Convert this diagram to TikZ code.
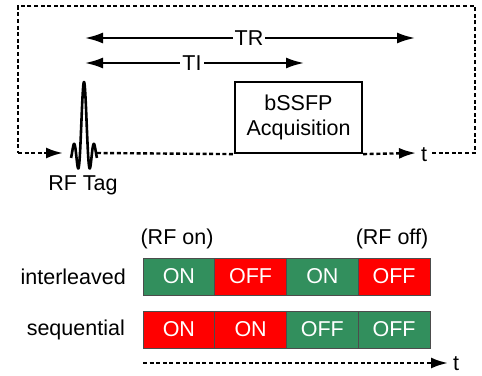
\documentclass[tikz,border=0pt]{standalone}
\usepackage{fontspec}
\setmainfont{Liberation Sans}
\usetikzlibrary{arrows.meta}
\definecolor{cellgreen}{RGB}{50,143,93}
\definecolor{cellred}{RGB}{255,0,0}
\begin{document}
\begin{tikzpicture}[x=1pt,y=-1pt,
  every node/.style={font=\fontsize{21.5}{25}\selectfont, inner sep=0pt},
  dotline/.style={line width=2.4pt, dash pattern=on 4pt off 2.6pt},
  solidarrow/.style={line width=2.2pt, {Latex[length=18pt,width=11pt]}-{Latex[length=18pt,width=11pt]}},
  tiparrow/.style={-{Latex[length=17pt,width=11pt]}},
  cell/.style={draw=black!70, line width=0.8pt, minimum width=71.75pt, minimum height=37pt, text=white},
  oncell/.style={cell, fill=cellgreen},
  offcell/.style={cell, fill=cellred},
  lbl/.style={fill=white, inner sep=2pt}
]
\useasboundingbox (0,0) rectangle (482,375);

% top frame
\coordinate (L) at (18,153);
\coordinate (LT) at (18,6);
\coordinate (RT) at (475,6);
\coordinate (R) at (475,153);
\coordinate (Rend) at (432,153);
\coordinate (pulseL) at (63,153);
\coordinate (pulseR) at (97,153);
\coordinate (tipR) at (416,153);

\node[draw=black, line width=2.2pt, minimum width=127pt, minimum height=71pt, align=center] (acq) at (298.5,117.5) {bSSFP\\Acquisition};

\draw[dotline] (Rend) -- (R) -- (RT) -- (LT) -- (L);
\draw[dotline, tiparrow] (L) -- (pulseL);
\draw[dotline] (pulseR) -- (acq.south west);
\draw[dotline, tiparrow] (acq.south east) -- (tipR);
\node (t1) at (424,155) {t};

% sinc pulse
\draw[line width=2.6pt, line join=round] plot[domain=-13:13, samples=260, smooth]
  ({84+\x},{153-71*sin(deg(pi*\x/4))/(pi*\x/4)});
\node (rftag) at (83,185) {RF Tag};

% TR and TI
\coordinate (trL) at (85,38);
\coordinate (trR) at (415,38);
\coordinate (tiL) at (85,63);
\coordinate (tiR) at (304,63);
\draw[solidarrow] (trL) -- (trR);
\draw[solidarrow] (tiL) -- (tiR);
\node[lbl] (tr) at (249,38) {TR};
\node[lbl] (ti) at (192,63) {TI};

% bottom table
\node (rfon) at (177,239) {(RF on)};
\node (rfoff) at (392,239) {(RF off)};
\node[anchor=east] (inter) at (126,276.5) {interleaved};
\node[anchor=east] (seq) at (125,329.5) {sequential};

\node[oncell]  (i1) at (178.875,276.5) {ON};
\node[offcell] (i2) at (250.625,276.5) {OFF};
\node[oncell]  (i3) at (322.375,276.5) {ON};
\node[offcell] (i4) at (394.125,276.5) {OFF};

\node[offcell] (s1) at (178.875,329.5) {ON};
\node[offcell] (s2) at (250.625,329.5) {ON};
\node[oncell]  (s3) at (322.375,329.5) {OFF};
\node[oncell]  (s4) at (394.125,329.5) {OFF};

\coordinate (bL) at (143,363);
\coordinate (bR) at (448,363);
\draw[dotline, tiparrow] (bL) -- (bR);
\node[anchor=west] (t2) at (453,364) {t};
\end{tikzpicture}
\end{document}
